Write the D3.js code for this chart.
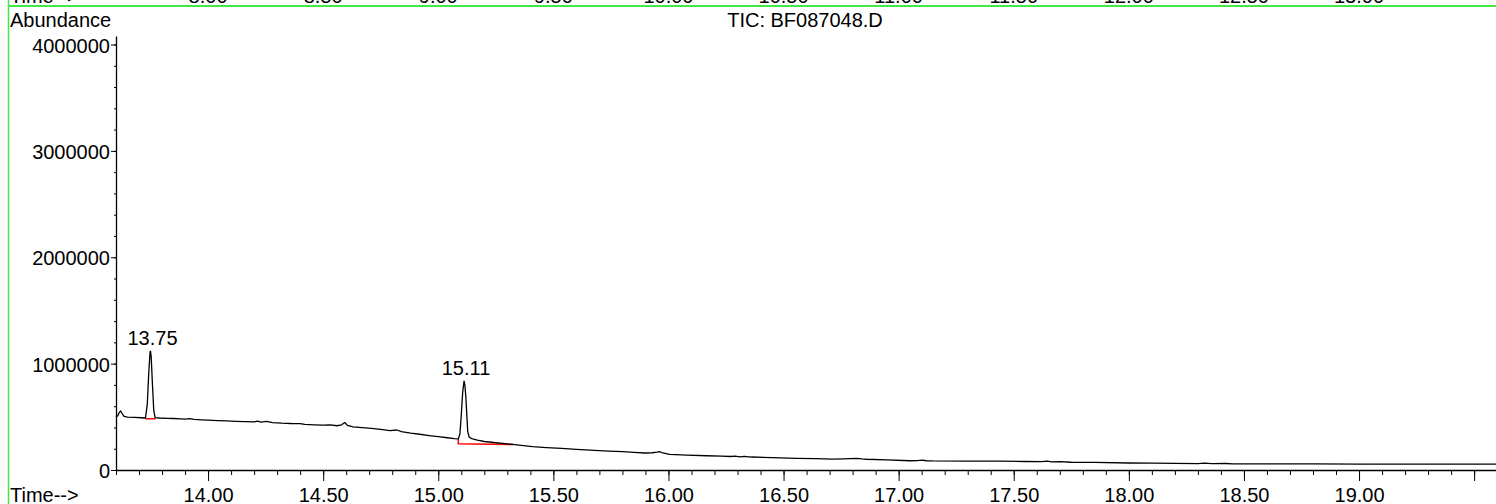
<!DOCTYPE html>
<html>
<head>
<meta charset="utf-8">
<script src="https://cdn.jsdelivr.net/npm/d3@7"></script>
<style>
  html, body { margin: 0; padding: 0; background: #fff; }
  svg { display: block; font-family: "Liberation Sans", Arial, sans-serif; }
</style>
</head>
<body>
<div id="chart"></div>
<script>
// TIC chromatogram, BF087048.D (lower panel of a ChemStation print)

const title = 'TIC: BF087048.D'

// retention time (min) and abundance of the trace
const rt = [
  13.600, 13.608, 13.614, 13.620, 13.627, 13.635, 13.650, 13.680, 13.710, 13.728,
  13.736, 13.742, 13.748, 13.750, 13.753, 13.758, 13.764, 13.770, 13.790, 13.820,
  13.850, 13.880, 13.900, 13.920, 13.940, 13.970, 14.000, 14.040, 14.080, 14.120,
  14.160, 14.200, 14.215, 14.230, 14.255, 14.280, 14.320, 14.360, 14.400, 14.420,
  14.460, 14.500, 14.530, 14.560, 14.580, 14.594, 14.605, 14.630, 14.670, 14.710,
  14.750, 14.790, 14.820, 14.840, 14.880, 14.920, 14.960, 15.000, 15.040, 15.070,
  15.087, 15.094, 15.100, 15.106, 15.112, 15.116, 15.120, 15.124, 15.128, 15.134,
  15.145, 15.170, 15.200, 15.250, 15.290, 15.323, 15.360, 15.410, 15.470, 15.536,
  15.600, 15.679, 15.740, 15.801, 15.850, 15.896, 15.930, 15.950, 15.961, 15.975,
  16.005, 16.080, 16.165, 16.230, 16.270, 16.290, 16.309, 16.330, 16.360, 16.450,
  16.556, 16.640, 16.713, 16.760, 16.790, 16.817, 16.840, 16.861, 16.950, 17.048,
  17.080, 17.104, 17.120, 17.148, 17.300, 17.439, 17.550, 17.620, 17.645, 17.665,
  17.700, 17.750, 17.850, 18.000, 18.100, 18.200, 18.300, 18.330, 18.360, 18.420,
  18.450, 18.600, 18.800, 19.000, 19.200, 19.400, 19.595
]
const abundance = [
  498000, 510000, 540000, 555000, 530000, 505000, 497000, 494000, 491000, 489000,
  620000, 900000, 1110000, 1117000, 1060000, 820000, 560000, 492000, 489000, 486000,
  484000, 481000, 478000, 483000, 476000, 472000, 469000, 465000, 461000, 458000,
  455000, 452000, 459000, 450000, 457000, 446000, 440000, 437000, 436000, 429000,
  425000, 421000, 424000, 416000, 425000, 446000, 420000, 406000, 398000, 391000,
  382000, 371000, 376000, 360000, 347000, 336000, 324000, 313000, 303000, 295000,
  292000, 340000, 520000, 730000, 836000, 790000, 680000, 520000, 360000, 310000,
  295000, 280000, 268000, 256000, 247000, 241000, 232000, 219000, 210000, 203000,
  194000, 185000, 178000, 172000, 165000, 160000, 162000, 168000, 173000, 160000,
  147000, 140000, 134000, 130000, 127000, 131000, 124000, 128000, 122000, 116000,
  110000, 106000, 103000, 105000, 107000, 110000, 104000, 101000, 95000, 87000,
  89000, 93000, 87000, 85000, 84000, 83000, 80000, 78000, 84000, 76000,
  79000, 73000, 71000, 66000, 64000, 62000, 60000, 64000, 59000, 61000,
  58000, 58000, 57000, 56000, 56000, 55000, 55000
]

// integrated peaks: label time and red baseline
const peakLabels = ['13.75', '15.11']
const peakApex = [13.750, 15.112]
const peakTop = [1117000, 836000]
const baseline1 = [[13.728, 482000], [13.772, 482000]]
const baseline2 = [[15.087, 292000], [15.087, 246000], [15.325, 240000]]

// axis ticks
const yMajor = [0, 1000000, 2000000, 3000000, 4000000]
const yMinor = d3.range(0, 4000001, 200000)
const xMajor = d3.range(14.0, 19.51, 0.5)
const xMinor = d3.range(13.6, 19.6, 0.1)
// labels of the panel above, only their lower edge is on the page
const topTicks = ['8.00', '8.50', '9.00', '9.50', '10.00', '10.50', '11.00', '11.50', '12.00', '12.50', '13.00']

const width = 1496, height = 504
const left = 116, bottom = 470
const fontSize = 20

const svg = d3.select('#chart').append('svg')
  .attr('width', width)
  .attr('height', height)

const x = d3.scaleLinear().domain([13.6, 19.595]).range([left, width])
const y = d3.scaleLinear().domain([0, 4080000]).range([bottom, 36])
const xTop = d3.scaleLinear().domain([7.6, 13.595]).range([left, width])

// green frame of the selected panel
svg.append('line')
  .attr('x1', 8.5).attr('x2', 8.5).attr('y1', 0).attr('y2', height)
  .attr('stroke', '#44e744').attr('stroke-width', 1.5)
svg.append('line')
  .attr('x1', 8).attr('x2', width).attr('y1', 6).attr('y2', 6)
  .attr('stroke', '#44e744').attr('stroke-width', 2)

// cut-off bits of the upper panel
svg.append('text').attr('x', 10).attr('y', 3)
  .style('font-size', fontSize + 'px').text('Time-->')
svg.selectAll('.top-tick')
  .data(topTicks)
  .enter().append('text')
  .attr('class', 'top-tick')
  .attr('x', d => xTop(+d))
  .attr('y', 3)
  .attr('text-anchor', 'middle')
  .style('font-size', fontSize + 'px')
  .text(d => d)

// y axis: minor ticks, then major ticks with labels
svg.append('g')
  .attr('transform', `translate(${left},0)`)
  .call(d3.axisLeft(y).tickValues(yMinor).tickSize(2).tickSizeOuter(0).tickFormat(''))
  .call(g => g.select('.domain').attr('stroke-width', 1.3))

svg.append('g')
  .attr('transform', `translate(${left},0)`)
  .call(d3.axisLeft(y).tickValues(yMajor).tickSize(5).tickPadding(1).tickFormat(d3.format('d')))
  .call(g => g.select('.domain').remove())
  .call(g => g.selectAll('text')
    .style('font-size', fontSize + 'px')
    .style('font-family', '"Liberation Sans", Arial, sans-serif')
    .attr('dy', '0.38em'))

// x axis
svg.append('g')
  .attr('transform', `translate(0,${bottom})`)
  .call(d3.axisBottom(x).tickValues(xMinor).tickSize(5).tickSizeOuter(0).tickFormat(''))
  .call(g => g.select('.domain').attr('stroke-width', 1.3))

svg.append('g')
  .attr('transform', `translate(0,${bottom})`)
  .call(d3.axisBottom(x).tickValues(xMajor).tickSize(11).tickFormat(d3.format('.2f')))
  .call(g => g.select('.domain').remove())
  .call(g => g.selectAll('text')
    .style('font-size', fontSize + 'px')
    .style('font-family', '"Liberation Sans", Arial, sans-serif')
    .attr('y', 32).attr('dy', 0))
  .call(g => g.selectAll('.tick')
    .filter(d => x(d) + 26 > width)
    .select('text').remove())

// titles
svg.append('text').attr('x', 10).attr('y', 27)
  .style('font-size', fontSize + 'px').text('Abundance')
svg.append('text').attr('x', 805).attr('y', 27)
  .attr('text-anchor', 'middle')
  .style('font-size', fontSize + 'px').text(title)
svg.append('text').attr('x', 10).attr('y', 502)
  .style('font-size', fontSize + 'px').text('Time-->')

// integration baselines
const line = d3.line().x(d => x(d[0])).y(d => y(d[1]))
svg.selectAll('.baseline')
  .data([baseline1, baseline2])
  .enter().append('path')
  .attr('class', 'baseline')
  .attr('d', line)
  .attr('fill', 'none')
  .attr('stroke', '#ff0000')
  .attr('stroke-width', 1.5)

// the trace
svg.append('path')
  .datum(d3.zip(rt, abundance))
  .attr('d', line)
  .attr('fill', 'none')
  .attr('stroke', '#000')
  .attr('stroke-width', 1.3)
  .attr('stroke-linejoin', 'round')

// peak labels
svg.selectAll('.peak-label')
  .data(peakLabels)
  .enter().append('text')
  .attr('class', 'peak-label')
  .attr('x', (d, i) => x(peakApex[i]) + 2)
  .attr('y', (d, i) => y(peakTop[i]) - 6)
  .attr('text-anchor', 'middle')
  .style('font-size', fontSize + 'px')
  .text(d => d)
</script>
</body>
</html>
